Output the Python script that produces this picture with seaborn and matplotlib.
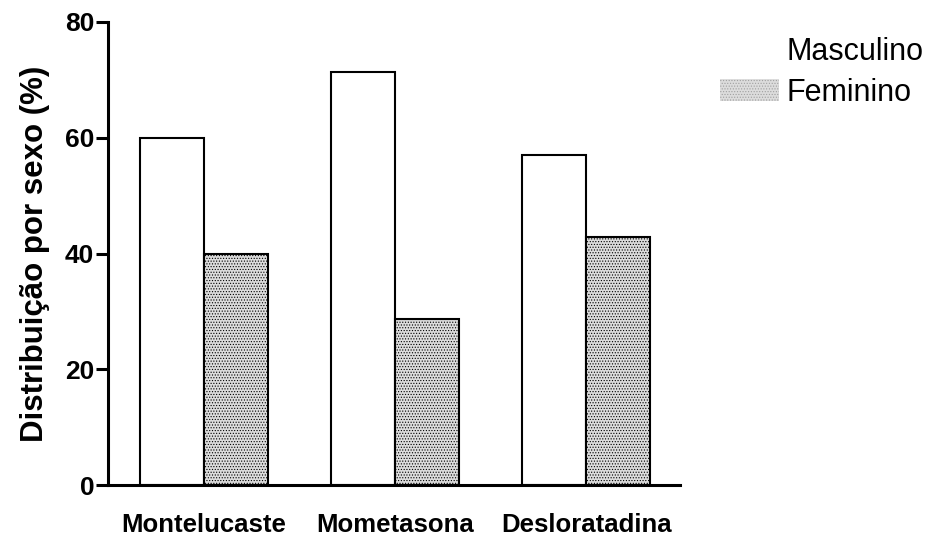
"""
Distribuição por sexo - bar chart
"""

import pandas as pd
import seaborn as sns
import matplotlib.pyplot as plt
from matplotlib.patches import Patch

farmacos = ["Montelucaste", "Mometasona", "Desloratadina"]
masculino = [60.0, 71.4, 57.1]
feminino = [40.0, 28.6, 42.9]
sexos = ["Masculino", "Feminino"]


def main():
    sns.set_style("ticks")
    plt.rcParams["font.family"] = ["Liberation Sans", "DejaVu Sans"]
    plt.rcParams.update({"text.color": "black", "axes.labelcolor": "black",
                         "xtick.color": "black", "ytick.color": "black",
                         "axes.edgecolor": "black",
                         "hatch.color": "#a8a8a8", "hatch.linewidth": 0.5})

    df = pd.DataFrame({
        "farmaco": farmacos * 2,
        "sexo": [sexos[0]] * 3 + [sexos[1]] * 3,
        "valor": masculino + feminino,
    })

    cinza = "#dcdcdc"
    fig = plt.figure(figsize=(9.29, 5.36), dpi=100)
    ax = fig.add_axes([0.1163, 0.0951, 0.6157, 0.8639])
    cores = {"Masculino": "white", "Feminino": cinza}
    sns.barplot(data=df, x="farmaco", y="valor", hue="sexo", palette=cores,
                width=0.67, edgecolor="black", linewidth=1.5, legend=False, ax=ax)
    for bar in ax.patches[3:6]:
        bar.set_hatch("......")

    ax.set_xlim(-0.5, 2.49)
    ax.set_ylim(0, 80)
    ax.set_yticks([0, 20, 40, 60, 80])
    ax.tick_params(axis="y", length=9, width=2.2, labelsize=19, pad=1)
    ax.tick_params(axis="x", length=0, labelsize=18.5, pad=20)
    for lab in ax.get_xticklabels() + ax.get_yticklabels():
        lab.set_fontweight("bold")
    ax.set_xlabel("")
    ax.set_ylabel("Distribuição por sexo (%)", fontsize=22.5, fontweight="bold", labelpad=11)
    for s in ["left", "bottom"]:
        ax.spines[s].set_linewidth(2.2)
    sns.despine(ax=ax, top=True, right=True)

    handles = [Patch(facecolor="white", edgecolor="white", linewidth=0),
               Patch(facecolor=cinza, edgecolor="#a0a0a0", linewidth=0, hatch="......")]
    fig.legend(handles, sexos, loc="upper left", bbox_to_anchor=(0.745, 0.983),
               frameon=False, fontsize=22, handlelength=1.96, handleheight=0.69,
               handletextpad=0.23, labelspacing=0.36)

    fig.savefig("out.png", dpi=100)


if __name__ == "__main__":
    main()
